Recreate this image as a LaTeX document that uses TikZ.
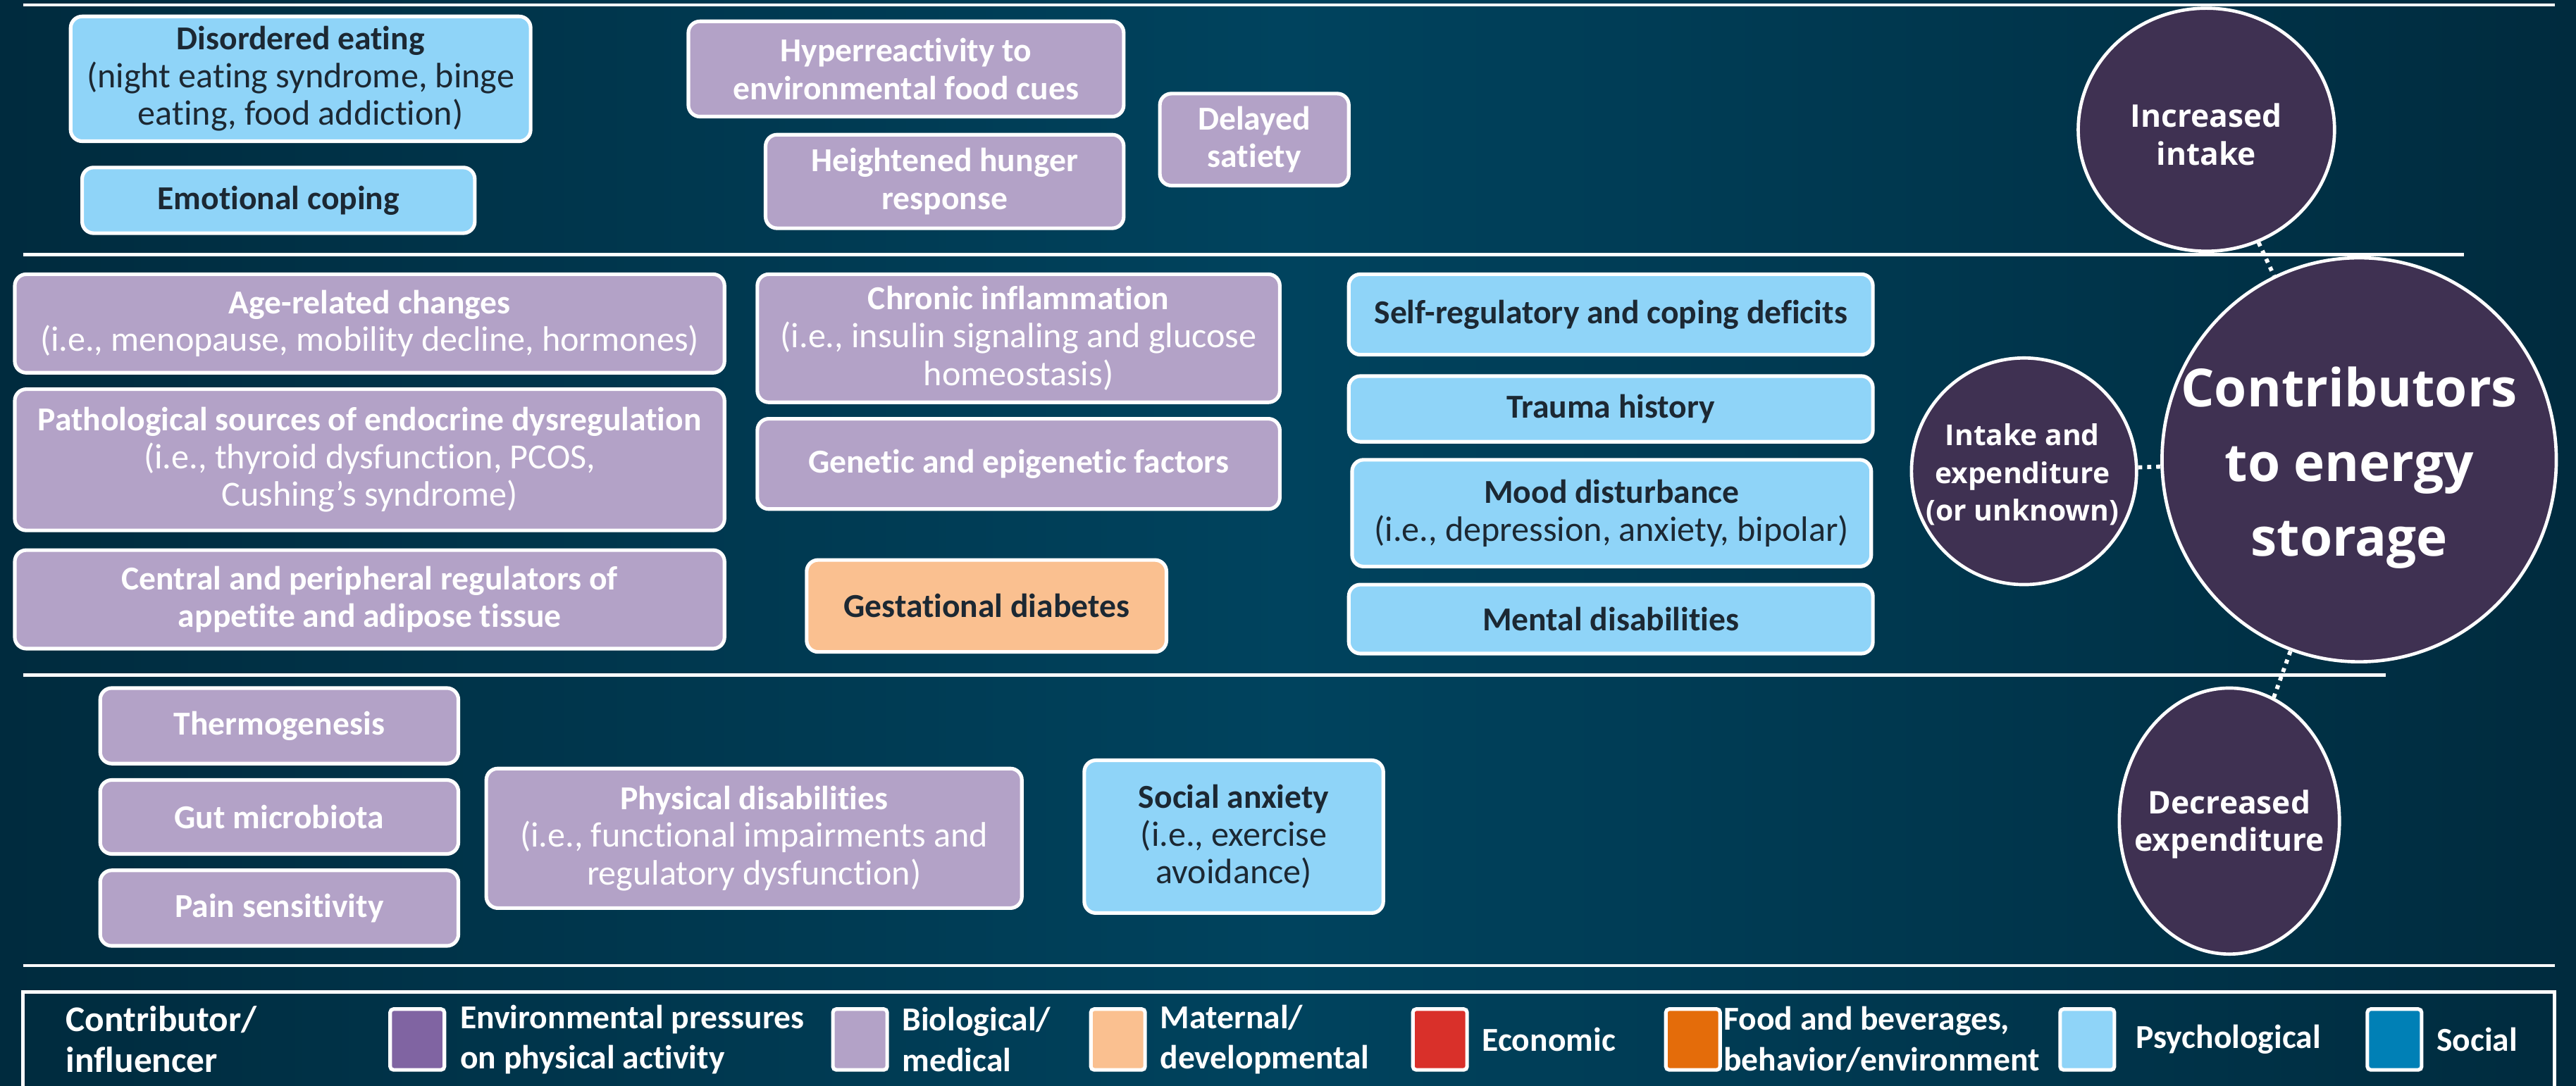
\documentclass[tikz,border=0pt]{standalone}
\usepackage{fontspec}
\setmainfont{Carlito}[Ligatures=NoCommon]
\newfontfamily\osans{Open Sans}
\usetikzlibrary{shapes.geometric}
\definecolor{bgmid}{HTML}{00435E}
\definecolor{bgedge}{HTML}{002B3E}
\definecolor{lav}{HTML}{B3A2C7}
\definecolor{lblue}{HTML}{8FD4F8}
\definecolor{peach}{HTML}{FAC090}
\definecolor{dtext}{HTML}{1C2833}
\definecolor{circfill}{HTML}{3F3152}
\definecolor{envpur}{HTML}{8064A2}
\definecolor{econred}{HTML}{D9302A}
\definecolor{foodor}{HTML}{E46C0A}
\definecolor{socblue}{HTML}{0080B6}
\newcommand\hd[1]{{\fontsize{20.4}{23}\selectfont\bfseries #1}}
\tikzset{
  cbox/.style={draw=white, line width=2.2pt, rounded corners=7pt, inner sep=0pt, align=center,
    font=\fontsize{21.5}{23}\selectfont},
  lavbox/.style={cbox, fill=lav, text=white},
  bluebox/.style={cbox, fill=lblue, text=dtext},
  peachbox/.style={cbox, fill=peach, text=dtext},
  circ/.style={ellipse, draw=white, line width=2pt, fill=circfill, inner sep=0pt},
  ctext/.style={text=white, inner sep=0pt, align=center, font=\osans\bfseries\fontsize{19}{23}\selectfont},
  sepline/.style={draw=white, line width=2pt},
  dotline/.style={draw=white, line width=2.5pt, dash pattern=on 2.5pt off 3pt},
  swatch/.style={draw=white, line width=2.2pt, rounded corners=2pt, minimum width=33pt, minimum height=37pt, inner sep=0pt},
  legtext/.style={anchor=west, text=white, align=left, inner sep=0pt, font=\bfseries\fontsize{20.4}{24.5}\selectfont},
}
\begin{document}
\begin{tikzpicture}[x=1pt,y=-1pt]
\useasboundingbox (0,0) rectangle (1568,661);
\shade[left color=bgedge, right color=bgedge, middle color=bgmid] (0,0) rectangle (1568,661);
% separator lines
\draw[sepline] (14,3) -- (1555,3);
\draw[sepline] (14,155) -- (1500,155);
\draw[sepline] (14,411) -- (1452,411);
\draw[sepline] (14,588) -- (1555,588);
% top section
\node[bluebox, minimum width=280pt, minimum height=76pt] (dis) at (183,48) {\hd{Disordered eating}\\(night eating syndrome, binge\\eating, food addiction)};
\node[bluebox, minimum width=239pt, minimum height=40pt] (emo) at (169.5,122) {\hd{Emotional coping}};
\node[lavbox, minimum width=265pt, minimum height=58pt] (hyp) at (551.5,42) {\hd{Hyperreactivity to}\\\hd{environmental food cues}};
\node[lavbox, minimum width=218pt, minimum height=57pt] (hun) at (575,110.5) {\hd{Heightened hunger}\\\hd{response}};
\node[lavbox, minimum width=115pt, minimum height=56pt] (sat) at (763.5,85) {\hd{Delayed}\\\hd{satiety}};
% middle section
\node[lavbox, minimum width=432pt, minimum height=60pt] (age) at (225,197) {\hd{Age-related changes}\\(i.e., menopause, mobility decline, hormones)};
\node[lavbox, minimum width=432pt, minimum height=86pt] (pat) at (225,280) {\hd{Pathological sources of endocrine dysregulation}\\(i.e., thyroid dysfunction, PCOS,\\Cushing’s syndrome)};
\node[lavbox, minimum width=432pt, minimum height=60pt] (cen) at (225,365) {\hd{Central and peripheral regulators of}\\\hd{appetite and adipose tissue}};
\node[lavbox, minimum width=318pt, minimum height=78pt] (chr) at (620,206) {\hd{Chronic inflammation}\\(i.e., insulin signaling and glucose\\homeostasis)};
\node[lavbox, minimum width=318pt, minimum height=55pt] (gen) at (620,282.5) {\hd{Genetic and epigenetic factors}};
\node[peachbox, minimum width=219pt, minimum height=56pt] (ges) at (600.5,369) {\hd{Gestational diabetes}};
\node[bluebox, minimum width=319pt, minimum height=49pt] (sel) at (980.5,191.5) {\hd{Self-regulatory and coping deficits}};
\node[bluebox, minimum width=319pt, minimum height=40pt] (tra) at (980.5,249) {\hd{Trauma history}};
\node[bluebox, minimum width=316pt, minimum height=65pt] (moo) at (981,312.5) {\hd{Mood disturbance}\\(i.e., depression, anxiety, bipolar)};
\node[bluebox, minimum width=319pt, minimum height=42pt] (men) at (980.5,377) {\hd{Mental disabilities}};
% bottom section
\node[lavbox, minimum width=218pt, minimum height=46pt] (the) at (170,442) {\hd{Thermogenesis}};
\node[lavbox, minimum width=218pt, minimum height=45pt] (gut) at (170,497.5) {\hd{Gut microbiota}};
\node[lavbox, minimum width=218pt, minimum height=46pt] (pai) at (170,553) {\hd{Pain sensitivity}};
\node[lavbox, minimum width=326pt, minimum height=85pt] (phy) at (459,510.5) {\hd{Physical disabilities}\\(i.e., functional impairments and\\regulatory dysfunction)};
\node[bluebox, minimum width=182pt, minimum height=93pt] (soc) at (751,509.5) {\hd{Social anxiety}\\(i.e., exercise\\avoidance)};
% circles
\node[circ, minimum width=156pt, minimum height=148pt] (inc) at (1343,79) {};
\node[ctext] (inct) at (1343,82) {Increased\\intake};
\node[circ, minimum width=137pt, minimum height=138pt] (ie) at (1232,287) {};
\node[ctext, font=\osans\bfseries\fontsize{17.5}{23}\selectfont] (iet) at (1231,289) {Intake and\\expenditure\\(or unknown)};
\node[circ, minimum width=134pt, minimum height=162pt] (dec) at (1357,500) {};
\node[ctext] (dect) at (1357,502) {Decreased\\expenditure};
\node[circ, minimum width=240pt, minimum height=246pt] (big) at (1436,280) {};
\node[ctext, font=\osans\bfseries\fontsize{32}{45.5}\selectfont] (bigt) at (1430,285) {Contributors\\to energy\\storage};
% connectors
\draw[dotline] (inc) -- (big);
\draw[dotline] (ie) -- (big);
\draw[dotline] (dec) -- (big);
% legend
\draw[sepline] (14,668) -- (14,604) -- (1555,604) -- (1555,668);
\node[legtext, font=\bfseries\fontsize{22}{25}\selectfont] (legtitle) at (40,633) {Contributor/\\influencer};
\node[swatch, fill=envpur] (s1) at (254,633) {};
\node[legtext] (t1) at (280,633) {Environmental pressures\\on physical activity};
\node[swatch, fill=lav] (s2) at (523.5,633) {};
\node[legtext] (t2) at (549,633) {Biological/\\medical};
\node[swatch, fill=peach] (s3) at (680.5,633) {};
\node[legtext] (t3) at (706,633) {Maternal/\\developmental};
\node[swatch, fill=econred] (s4) at (876.5,633) {};
\node[legtext] (t4) at (902,633) {Economic};
\node[swatch, fill=foodor] (s5) at (1030.5,633) {};
\node[legtext] (t5) at (1049,633) {Food and beverages,\\behavior/environment};
\node[swatch, fill=lblue] (s6) at (1270.5,633) {};
\node[legtext] (t6) at (1300,633) {Psychological};
\node[swatch, fill=socblue] (s7) at (1457.5,633) {};
\node[legtext] (t7) at (1483,633) {Social};
\end{tikzpicture}
\end{document}
